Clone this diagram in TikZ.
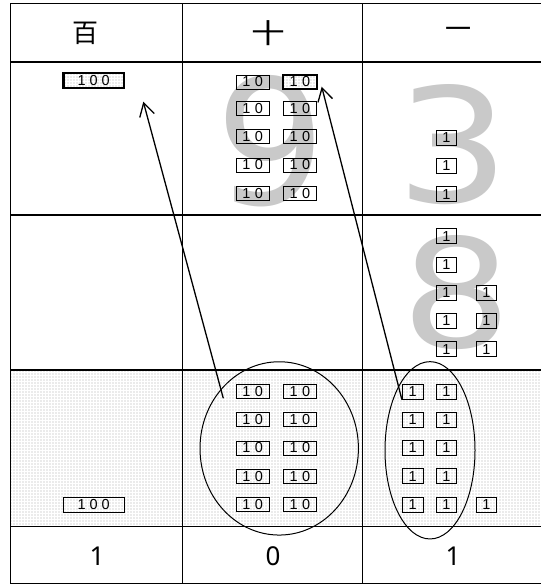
\documentclass[tikz,border=0pt]{standalone}
\usepackage{fontspec}
\setmainfont{Liberation Sans}
\newfontfamily\cjkfont{Noto Sans CJK JP}
\newfontfamily\digitfont{Noto Sans}
\newfontfamily\bigfont{DejaVu Sans}
\usetikzlibrary{arrows.meta,patterns,shapes.geometric}
\begin{document}
\begin{tikzpicture}[x=1pt,y=-1pt,
  rule/.style={line width=1.2pt},
  thickrule/.style={line width=2.8pt},
  cbox/.style={draw,line width=0.9pt,inner sep=0pt,font=\fontsize{14.5}{14.5}\selectfont},
  hbox/.style={cbox,minimum width=60.5pt,minimum height=15pt},
  tbox/.style={cbox,minimum width=33.3pt,minimum height=14pt},
  obox/.style={cbox,minimum width=20.7pt,minimum height=15pt},
  carry/.style={line width=2.2pt,preaction={fill=gray!16},pattern=grid,pattern color=white},
  head/.style={font=\cjkfont\fontsize{26}{26}\selectfont,inner sep=0pt},
  result/.style={font=\digitfont\fontsize{26}{26}\selectfont,inner sep=0pt},
  bigdigit/.style={text=black!21,inner sep=0pt},
  link/.style={line width=1.3pt,-{Straight Barb[length=13pt,width=15pt]}},
  group/.style={draw,line width=1pt,ellipse,inner sep=0pt}
]
\useasboundingbox (0,0) rectangle (541,585);
\fill[white] (0,0) rectangle (541,585);
% shaded row
\fill[gray!16] (10.5,370) rectangle (541,526.5);
\fill[pattern=grid,pattern color=white] (10.5,370) rectangle (541,526.5);

% large faded digits
\node[bigdigit,font=\bigfont\fontsize{174}{174}\selectfont] (nine) at (270.5,141.5) {9};
\node[bigdigit,font=\bigfont\fontsize{159}{159}\selectfont] (three) at (453.5,145) {\scalebox{1.12}[1]{3}};
\node[bigdigit,font=\bigfont\fontsize{151}{151}\selectfont] (eight) at (456.5,293) {\scalebox{1.15}[1]{8}};

% table rules
\draw[rule] (10.5,3.5) -- (541,3.5);
\draw[rule] (10.5,62) -- (541,62);
\draw[rule] (10.5,215) -- (541,215);
\draw[rule] (10.5,526.5) -- (541,526.5);
\draw[rule] (10.5,583.5) -- (541,583.5);
\draw[thickrule] (10.5,370) -- (541,370);
\draw[rule] (10.5,3.5) -- (10.5,583.5);
\draw[rule] (182.5,3.5) -- (182.5,583.5);
\draw[rule] (362.5,3.5) -- (362.5,583.5);

% headers
\node[head] (hh) at (85,33) {百};
\node[head] (ht) at (268,33) {\scalebox{1.3}[1.05]{十}};
\node[head] (ho) at (458,33) {一};

% results
\node[result] (rh) at (97,556) {1};
\node[result] (rt) at (273,556) {0};
\node[result] (ro) at (453,556) {1};

% hundreds
\node[hbox,carry] (hcarry) at (93.7,80.5) {1\kern4pt0\kern4pt0};
\node[hbox] (hsum) at (93.7,505) {1\kern4pt0\kern4pt0};

% tens, upper section
\foreach \r/\y in {1/82,2/108.7,3/136.7,4/165,5/193.3}
  \node[tbox] (ta\r) at (252.7,\y) {1\kern4.5pt0};
\node[tbox,carry] (tb1) at (300,82) {1\kern4.5pt0};
\foreach \r/\y in {2/108.7,3/136.7,4/165,5/193.3}
  \node[tbox] (tb\r) at (300,\y) {1\kern4.5pt0};

% tens, shaded section
\foreach \r/\y in {1/391.7,2/419.7,3/448,4/476.3,5/504.5} {
  \node[tbox] (tc\r) at (252.7,\y) {1\kern4.5pt0};
  \node[tbox] (td\r) at (300,\y) {1\kern4.5pt0};
}

% ones, upper section
\foreach \r/\y in {1/137.5,2/165.8,3/194.2}
  \node[obox] (oa\r) at (446.3,\y) {1};
% ones, middle section
\foreach \r/\y in {1/236.3,2/264.5,3/292.5,4/320.8,5/349.2}
  \node[obox] (ob\r) at (446.3,\y) {1};
\foreach \r/\y in {3/292.5,4/320.8,5/349.2}
  \node[obox] (oc\r) at (486.3,\y) {1};
% ones, shaded section
\foreach \r/\y in {1/391.7,2/419.7,3/448,4/476.3,5/504.5} {
  \node[obox] (od\r) at (412.7,\y) {1};
  \node[obox] (oe\r) at (446.3,\y) {1};
}
\node[obox] (of5) at (486.3,504.5) {1};

% groups
\node[group,minimum width=158.4pt,minimum height=173.3pt] (tengroup) at (279.2,448.4) {};
\node[group,minimum width=90pt,minimum height=177.3pt] (onegroup) at (430,450.3) {};

% carry arrows
\coordinate (tail1) at (223.3,398.3);
\coordinate (tip1) at (143.3,101.7);
\coordinate (tip2) at (321.7,86.7);
\draw[link] (tail1) -- (tip1);
\draw[link] (od1.south west) -- (tip2);
\end{tikzpicture}
\end{document}
